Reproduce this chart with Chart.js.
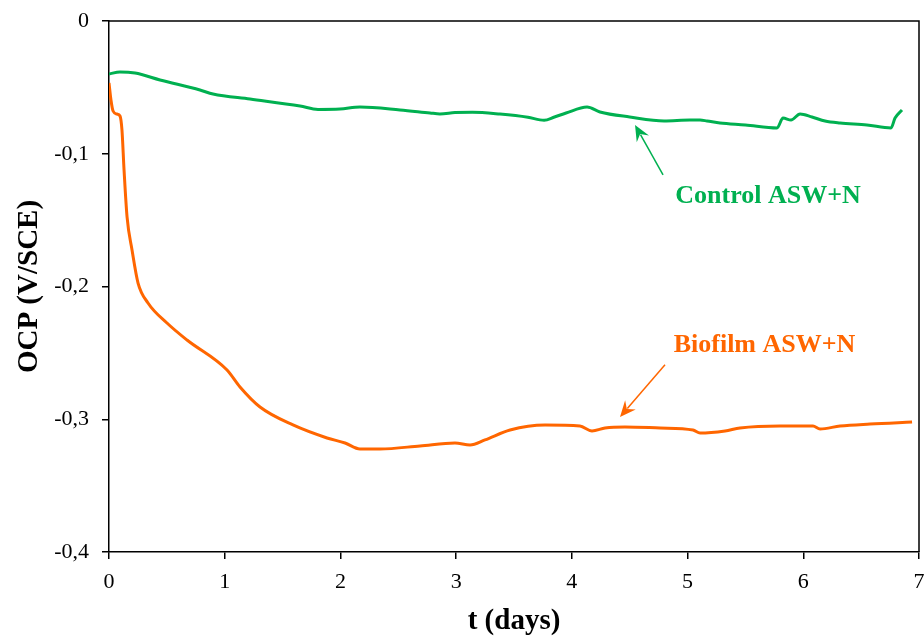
<!DOCTYPE html>
<html>
<head>
<meta charset="utf-8">
<script src="https://cdn.jsdelivr.net/npm/chart.js@4/dist/chart.umd.min.js"></script>
<style>
  html, body { margin: 0; padding: 0; background: #fff; }
  #wrap { width: 924px; height: 639px; position: relative; }
</style>
</head>
<body>
<div id="wrap"><canvas id="ocpChart"></canvas></div>
<script>
// ---- data (t in days, OCP in V/SCE) ----
const controlT = [0, 0.095, 0.225, 0.441, 0.786, 0.899, 1.219, 1.651, 1.806, 1.996, 2.169, 2.515, 2.774, 2.86, 2.99, 3.14, 3.379, 3.62, 3.76, 3.85, 3.95, 4.131, 4.243, 4.5, 4.797, 5.021, 5.108, 5.168, 5.28, 5.5, 5.773, 5.825, 5.894, 5.972, 6.075, 6.188, 6.318, 6.55, 6.758, 6.793, 6.853];
const controlOcp = [-0.0399, -0.0384, -0.0392, -0.0444, -0.0520, -0.0550, -0.0588, -0.0640, -0.0666, -0.0663, -0.0648, -0.0670, -0.0693, -0.0700, -0.0690, -0.0687, -0.0701, -0.0725, -0.0748, -0.0723, -0.0693, -0.0648, -0.0685, -0.0723, -0.0753, -0.0746, -0.0746, -0.0753, -0.0768, -0.0783, -0.0806, -0.0731, -0.0746, -0.0701, -0.0723, -0.0753, -0.0768, -0.0783, -0.0806, -0.0731, -0.0670];

const biofilmT = [0, 0.017, 0.035, 0.069, 0.095, 0.112, 0.130, 0.156, 0.199, 0.251, 0.337, 0.501, 0.674, 1.020, 1.132, 1.305, 1.590, 1.884, 2.040, 2.169, 2.342, 2.688, 2.990, 3.120, 3.249, 3.466, 3.768, 4.070, 4.174, 4.287, 4.459, 4.762, 5.047, 5.108, 5.324, 5.453, 5.799, 6.084, 6.145, 6.318, 6.577, 6.940];
const biofilmOcp = [-0.0467, -0.0595, -0.0678, -0.0701, -0.0716, -0.0821, -0.1122, -0.1476, -0.1725, -0.1974, -0.2124, -0.2275, -0.2403, -0.2629, -0.2757, -0.2908, -0.3043, -0.3141, -0.3179, -0.3224, -0.3224, -0.3201, -0.3179, -0.3194, -0.3156, -0.3081, -0.3043, -0.3051, -0.3088, -0.3066, -0.3058, -0.3066, -0.3081, -0.3104, -0.3088, -0.3066, -0.3051, -0.3051, -0.3073, -0.3051, -0.3036, -0.3021];

// annotation labels and arrows, in data units
const seriesLabels = ['Control ASW+N', 'Biofilm ASW+N'];
const seriesColors = ['#00b050', '#ff6600'];
const labelAt = [[5.695, -0.1318], [5.665, -0.2440]];
const arrowFrom = [[4.788, -0.1160], [4.805, -0.2590]];
const arrowTo = [[4.546, -0.0783], [4.416, -0.2983]];

const toPoints = (xs, ys) => xs.map((x, i) => ({ x: x, y: ys[i] }));
const fmtComma = v => (Math.abs(v) < 1e-9 ? '0' : v.toFixed(1).replace('.', ','));
const serif = 'Liberation Serif, Times New Roman, serif';

// frame (top + right) and the two annotations
const extrasPlugin = {
    id: 'extras',
    afterDraw(chart) {
        const { ctx, chartArea: a, scales: { x, y } } = chart;
        ctx.save();
        ctx.strokeStyle = '#000';
        ctx.lineWidth = 1.5;
        ctx.beginPath();
        ctx.moveTo(a.left, a.top);
        ctx.lineTo(a.right, a.top);
        ctx.lineTo(a.right, a.bottom);
        ctx.stroke();

        seriesLabels.forEach((txt, i) => {
            const col = seriesColors[i];
            ctx.fillStyle = col;
            ctx.font = 'bold 26px ' + serif;
            ctx.textAlign = 'center';
            ctx.textBaseline = 'middle';
            ctx.fillText(txt, x.getPixelForValue(labelAt[i][0]), y.getPixelForValue(labelAt[i][1]));

            const x0 = x.getPixelForValue(arrowFrom[i][0]), y0 = y.getPixelForValue(arrowFrom[i][1]);
            const x1 = x.getPixelForValue(arrowTo[i][0]), y1 = y.getPixelForValue(arrowTo[i][1]);
            const ang = Math.atan2(y1 - y0, x1 - x0);
            const hl = 16, hw = 7;
            ctx.strokeStyle = col;
            ctx.lineWidth = 1.5;
            ctx.beginPath();
            ctx.moveTo(x0, y0);
            ctx.lineTo(x1 - Math.cos(ang) * hl * 0.7, y1 - Math.sin(ang) * hl * 0.7);
            ctx.stroke();
            // stealth head
            ctx.beginPath();
            ctx.moveTo(x1, y1);
            ctx.lineTo(x1 - Math.cos(ang) * hl - Math.sin(ang) * hw, y1 - Math.sin(ang) * hl + Math.cos(ang) * hw);
            ctx.lineTo(x1 - Math.cos(ang) * hl * 0.65, y1 - Math.sin(ang) * hl * 0.65);
            ctx.lineTo(x1 - Math.cos(ang) * hl + Math.sin(ang) * hw, y1 - Math.sin(ang) * hl - Math.cos(ang) * hw);
            ctx.closePath();
            ctx.fill();
        });
        ctx.restore();
    }
};

const ctx = document.getElementById('ocpChart').getContext('2d');
new Chart(ctx, {
    type: 'line',
    data: {
        datasets: [
            {
                label: seriesLabels[0],
                data: toPoints(controlT, controlOcp),
                borderColor: seriesColors[0],
                borderWidth: 3,
                pointRadius: 0,
                cubicInterpolationMode: 'monotone',
                fill: false
            },
            {
                label: seriesLabels[1],
                data: toPoints(biofilmT, biofilmOcp),
                borderColor: seriesColors[1],
                borderWidth: 3,
                pointRadius: 0,
                cubicInterpolationMode: 'monotone',
                fill: false
            }
        ]
    },
    options: {
        responsive: true,
        maintainAspectRatio: false,
        animation: false,
        layout: { padding: { top: 21, right: 5, left: 0, bottom: 0 } },
        plugins: {
            legend: { display: false },
            tooltip: { enabled: false }
        },
        scales: {
            x: {
                type: 'linear',
                min: 0,
                max: 7,
                afterFit: s => { s.height = 87; s.paddingLeft = 0; s.paddingRight = 0; },
                border: { display: true, color: '#000', width: 1.5 },
                grid: { drawOnChartArea: false, drawTicks: true, tickLength: 7, color: '#000', lineWidth: 1.5 },
                ticks: { stepSize: 1, color: '#000', padding: 10, font: { family: serif, size: 22 }, maxRotation: 0 },
                title: { display: true, text: 't (days)', color: '#000', padding: { top: -2, bottom: 0 }, font: { family: serif, size: 29, weight: 'bold' } }
            },
            y: {
                min: -0.4,
                max: 0,
                afterFit: s => { s.width = 109; s.paddingTop = 0; s.paddingBottom = 0; },
                border: { display: true, color: '#000', width: 1.5 },
                grid: { drawOnChartArea: false, drawTicks: true, tickLength: 7, color: '#000', lineWidth: 1.5 },
                ticks: { stepSize: 0.1, color: '#000', padding: 13, font: { family: serif, size: 22 }, callback: v => fmtComma(v) },
                title: { display: true, text: 'OCP (V/SCE)', color: '#000', padding: { top: 12, bottom: 0 }, font: { family: serif, size: 29, weight: 'bold' } }
            }
        }
    },
    plugins: [extrasPlugin]
});
</script>
</body>
</html>
